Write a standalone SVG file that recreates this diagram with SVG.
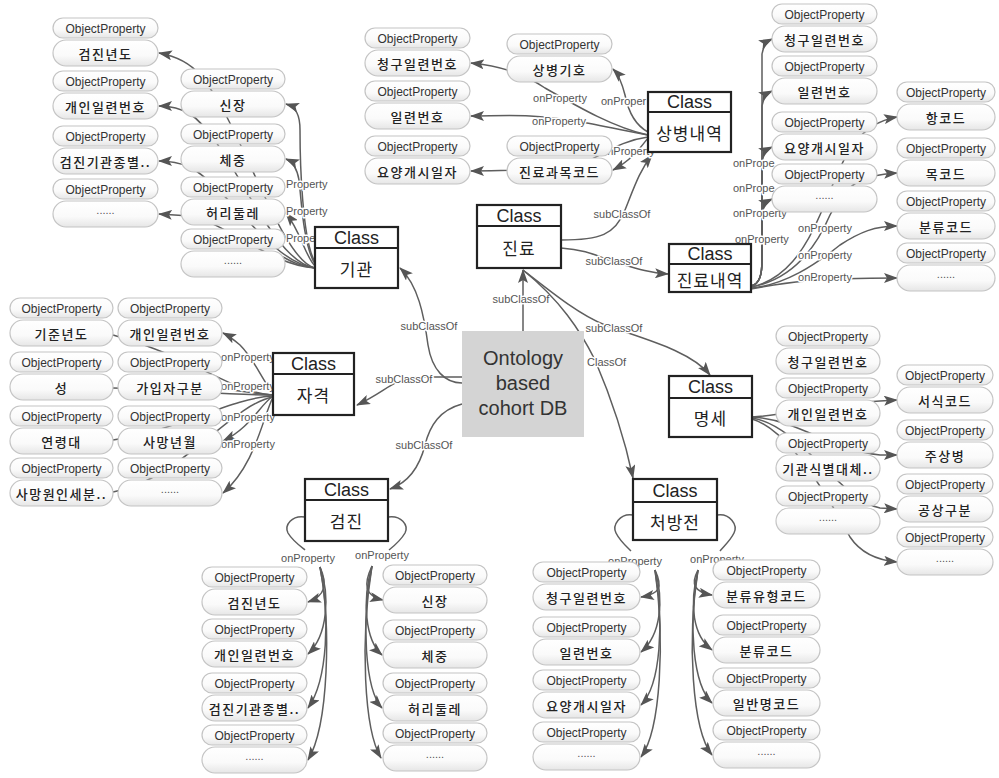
<svg xmlns="http://www.w3.org/2000/svg" width="999" height="778" viewBox="0 0 999 778">
<defs>
<linearGradient id="pg" x1="0" y1="0" x2="0" y2="1">
<stop offset="0" stop-color="#ffffff"/><stop offset="0.6" stop-color="#fafafa"/><stop offset="1" stop-color="#e6e6e6"/>
</linearGradient>
<marker id="ah" viewBox="0 0 14 10" refX="13" refY="5" markerWidth="14" markerHeight="10" markerUnits="userSpaceOnUse" orient="auto">
<path d="M0,0 L14,5 L0,10 L3,5 z" fill="#555"/>
</marker>
<style>
.c{fill:none;stroke:#5e5e5e;stroke-width:1.5}
.a{marker-end:url(#ah)}
.lb{font-family:"Liberation Sans",Arial,sans-serif;font-size:11px;fill:#555;dominant-baseline:central;paint-order:stroke;stroke:#fff;stroke-width:3px;stroke-linejoin:round}
.m{text-anchor:middle}
.pill{fill:url(#pg);stroke:#c4c4c4;stroke-width:1.2}
.opt{font-family:"Liberation Sans",Arial,sans-serif;font-size:12px;fill:#333;text-anchor:middle;dominant-baseline:central}
.vt{font-family:"Noto Sans CJK KR","Noto Sans",sans-serif;font-size:13px;font-weight:500;fill:#222;text-anchor:middle;dominant-baseline:central;letter-spacing:1.5px}
.dt{font-family:"Liberation Sans",Arial,sans-serif;font-size:11px;fill:#555;text-anchor:middle;dominant-baseline:central}
.cb{fill:#fff;stroke:#222;stroke-width:2.2}
.ct{font-family:"Liberation Sans",Arial,sans-serif;font-size:18px;fill:#222;text-anchor:middle;dominant-baseline:central}
.kt{font-family:"Noto Sans CJK KR","Noto Sans",sans-serif;font-size:17px;fill:#222;text-anchor:middle;dominant-baseline:central;letter-spacing:1px}
.ot{font-family:"Liberation Sans",Arial,sans-serif;font-size:20px;fill:#333;text-anchor:middle;dominant-baseline:central}
</style>
</defs>
<rect width="999" height="778" fill="#fff"/>

<g id="connectors">
<!-- subClassOf -->
<path class="c a" d="M523,331 L523,270"/>
<text class="lb m" x="521" y="299">subClassOf</text>
<path class="c a" d="M462,383 C445,383 432,370 428,345 C424,315 418,285 400,268"/>
<text class="lb m" x="429" y="326">subClassOf</text>
<path class="c a" d="M462,377 L415,377 C395,378 385,392 357,405"/>
<text class="lb m" x="404" y="379">subClassOf</text>
<path class="c a" d="M462,404 C440,410 430,425 425,445 C420,465 410,482 390,489"/>
<text class="lb m" x="424" y="445">subClassOf</text>
<path class="c a" d="M561,240 C600,240 615,235 625,210 C635,185 640,170 652,155"/>
<text class="lb m" x="622" y="214">subClassOf</text>
<path class="c a" d="M561,248 C590,250 600,258 615,262 C635,268 650,273 668,274"/>
<text class="lb m" x="614" y="261">subClassOf</text>
<path class="c a" d="M523,270 C555,295 580,315 605,325 C640,338 690,350 710,375"/>
<text class="lb m" x="614" y="328">subClassOf</text>
<path class="c a" d="M523,270 C560,300 580,330 595,360 C610,395 625,440 633,478"/>
<text class="lb" x="587" y="362">ClassOf</text>

<!-- 기관 -->
<path class="c a" d="M315,262 C302,240 300,160 300,130 C300,115 296,107 286,104"/>
<path class="c a" d="M315,264 C303,245 301,195 299,180 C297,168 293,162 286,159"/>
<path class="c a" d="M315,266 C305,256 301,232 286,213"/>
<path class="c" d="M315,268 C300,266 292,262 283,257"/>
<path class="c a" d="M315,268 C280,260 240,120 200,75 C190,63 175,56 159,53"/>
<path class="c a" d="M315,268 C270,262 230,140 190,114 C180,108 170,106 159,106"/>
<path class="c a" d="M315,268 C270,262 230,190 190,167 C180,163 170,161 159,161"/>
<path class="c a" d="M315,268 C270,265 230,225 190,216 L159,214"/>
<text class="lb" x="286" y="184">Property</text>
<text class="lb" x="286" y="211">Property</text>
<text class="lb" x="286" y="238">Prope</text>

<!-- 자격 -->
<path class="c a" d="M273,393 C262,380 255,360 240,345 C233,339 229,336 223,333"/>
<path class="c a" d="M273,396 C260,405 250,428 223,441"/>
<path class="c a" d="M273,397 C262,420 255,465 223,493"/>
<path class="c" d="M273,395 C250,393 235,390 222,389"/>
<path class="c" d="M273,395 C230,392 200,360 113,335"/>
<path class="c" d="M273,395 C230,395 180,390 113,388"/>
<path class="c" d="M273,396 C230,398 180,430 113,440"/>
<path class="c" d="M273,397 C230,405 180,480 113,492"/>
<text class="lb m" x="248" y="357">onProperty</text>
<text class="lb m" x="248" y="386">onProperty</text>
<text class="lb m" x="248" y="417">onProperty</text>
<text class="lb m" x="248" y="444">onProperty</text>

<!-- 상병내역 -->
<path class="c a" d="M648,132 C635,125 628,110 625,95 C622,83 619,75 613,69"/>
<path class="c a" d="M648,135 C615,128 580,108 545,88 C530,78 510,67 471,63"/>
<path class="c a" d="M648,135 C610,128 570,118 530,116 C510,115 490,116 471,116"/>
<path class="c a" d="M648,137 C625,140 610,150 590,160 C560,168 520,171 471,171"/>
<path class="c a" d="M648,138 C640,148 632,160 613,170"/>
<text class="lb m" x="560" y="98">onProperty</text>
<text class="lb m" x="559" y="121">onProperty</text>
<text class="lb" x="601" y="101">onProper</text>
<text class="lb m" x="628" y="151">onProperty</text>

<!-- 진료내역 -->
<path class="c a" d="M751,286 C760,284 762,274 762,260 L762,54 C763,47 766,42 772,39"/>
<path class="c a" d="M751,286 C760,284 762,274 762,260 L762,106 C763,99 766,94 772,91"/>
<path class="c a" d="M751,286 C760,284 762,274 762,260 L762,162 C763,155 766,150 772,147"/>
<path class="c a" d="M751,286 C760,284 762,274 762,260 L762,214 C763,207 766,202 772,199"/>
<path class="c a" d="M751,287 C785,280 805,250 820,215 C840,170 850,125 897,117"/>
<path class="c a" d="M751,287 C790,280 815,250 830,215 C845,185 860,175 897,173"/>
<path class="c a" d="M751,288 C785,285 815,265 840,245 C860,232 875,226 897,226"/>
<path class="c a" d="M751,289 C780,284 800,278 897,278"/>
<text class="lb" x="733" y="163">onPrope</text>
<text class="lb" x="733" y="188">onPrope</text>
<text class="lb" x="733" y="213">onProperty</text>
<text class="lb" x="735" y="239">onProperty</text>
<text class="lb m" x="825" y="228">onProperty</text>
<text class="lb m" x="825" y="255">onProperty</text>
<text class="lb m" x="825" y="277">onProperty</text>

<!-- 명세 -->
<path class="c a" d="M752,417 C790,415 820,404 880,401 L897,400"/>
<path class="c a" d="M752,417 C800,420 830,450 880,455 L897,455"/>
<path class="c a" d="M752,418 C800,425 840,500 880,508 L897,509"/>
<path class="c a" d="M752,419 C790,430 830,500 850,537 C860,552 875,560 897,562"/>

<!-- 검진 -->
<path class="c" d="M305,517 C292,515 284,525 288,533 C292,540 300,546 305,550"/>
<path class="c" d="M388,517 C401,515 409,525 405,533 C401,540 394,546 389,550"/>
<text class="lb m" x="308" y="558">onProperty</text>
<text class="lb m" x="382" y="555">onProperty</text>
<path class="c a" d="M320,567 C328,585 325,596 308,602"/>
<path class="c a" d="M320,567 C330,595 328,635 308,654"/>
<path class="c a" d="M320,567 C330,615 328,680 308,708"/>
<path class="c a" d="M320,567 C331,625 329,725 308,760"/>
<path class="c a" d="M372,566 C363,585 365,596 383,600"/>
<path class="c a" d="M372,566 C362,600 365,640 382,655"/>
<path class="c a" d="M372,566 C361,620 365,690 382,708"/>
<path class="c a" d="M372,566 C360,640 364,730 381,758"/>

<!-- 처방전 -->
<path class="c" d="M633,515 C620,513 612,525 616,533 C620,541 626,546 631,551"/>
<path class="c" d="M717,515 C730,513 738,525 734,533 C730,541 724,546 720,551"/>
<text class="lb m" x="635" y="561">onProperty</text>
<text class="lb m" x="717" y="559">onProperty</text>
<path class="c a" d="M655,570 C663,587 660,594 641,597"/>
<path class="c a" d="M655,570 C664,600 661,635 641,652"/>
<path class="c a" d="M655,570 C664,622 661,685 641,705"/>
<path class="c a" d="M655,570 C665,640 661,730 641,757"/>
<path class="c a" d="M698,570 C690,585 695,592 712,595"/>
<path class="c a" d="M698,570 C689,605 693,636 712,650"/>
<path class="c a" d="M698,570 C688,625 693,685 712,703"/>
<path class="c a" d="M698,570 C687,640 692,730 712,755"/>
</g>

<!-- Central node -->
<g id="ontology">
<rect x="462" y="331" width="122" height="106" fill="#d4d4d4"/>
<text class="ot" x="523" y="358">Ontology</text>
<text class="ot" x="523" y="383">based</text>
<text class="ot" x="523" y="408">cohort DB</text>
</g>

<!-- Class nodes -->
<g id="class-jinryo"><rect class="cb" x="477" y="205" width="84" height="63"/><line x1="477" y1="226" x2="561" y2="226" stroke="#222" stroke-width="2.2"/><text class="ct" x="519" y="216">Class</text><text class="kt" x="519" y="247">진료</text></g>
<g id="class-gigwan"><rect class="cb" x="315" y="227" width="83" height="61"/><line x1="315" y1="248" x2="398" y2="248" stroke="#222" stroke-width="2.2"/><text class="ct" x="356.5" y="238">Class</text><text class="kt" x="356.5" y="268">기관</text></g>
<g id="class-jagyeok"><rect class="cb" x="273" y="353" width="81" height="62"/><line x1="273" y1="374" x2="354" y2="374" stroke="#222" stroke-width="2.2"/><text class="ct" x="313.5" y="364">Class</text><text class="kt" x="313.5" y="394">자격</text></g>
<g id="class-geomjin"><rect class="cb" x="305" y="479" width="83" height="62"/><line x1="305" y1="500" x2="388" y2="500" stroke="#222" stroke-width="2.2"/><text class="ct" x="346.5" y="490">Class</text><text class="kt" x="346.5" y="520">검진</text></g>
<g id="class-cheobang"><rect class="cb" x="633" y="479" width="84" height="61"/><line x1="633" y1="502" x2="717" y2="502" stroke="#222" stroke-width="2.2"/><text class="ct" x="675" y="491">Class</text><text class="kt" x="675" y="521">처방전</text></g>
<g id="class-myeongse"><rect class="cb" x="669" y="376" width="83" height="61"/><line x1="669" y1="398" x2="752" y2="398" stroke="#222" stroke-width="2.2"/><text class="ct" x="710.5" y="387">Class</text><text class="kt" x="710.5" y="417">명세</text></g>
<g id="class-sangbyeong"><rect class="cb" x="648" y="92" width="83" height="60"/><line x1="648" y1="112" x2="731" y2="112" stroke="#222" stroke-width="2.2"/><text class="ct" x="689.5" y="102">Class</text><text class="kt" x="689.5" y="132">상병내역</text></g>
<g id="class-jinryonaeyeok"><rect class="cb" x="669" y="244" width="82" height="48"/><line x1="669" y1="264" x2="751" y2="264" stroke="#222" stroke-width="2.2"/><text class="ct" x="710" y="254">Class</text><text class="kt" x="710" y="279">진료내역</text></g>

<!-- Property nodes: column A (기관 outer) -->
<g id="pA1"><rect class="pill" x="53" y="18" width="105" height="20" rx="10"/><text class="opt" x="105.5" y="28.5">ObjectProperty</text><rect class="pill" x="53" y="40" width="105" height="26" rx="13"/><text class="vt" x="105.5" y="53">검진년도</text></g>
<g id="pA2"><rect class="pill" x="53" y="71" width="105" height="20" rx="10"/><text class="opt" x="105.5" y="81.5">ObjectProperty</text><rect class="pill" x="53" y="93" width="105" height="26" rx="13"/><text class="vt" x="105.5" y="106">개인일련번호</text></g>
<g id="pA3"><rect class="pill" x="53" y="126" width="105" height="20" rx="10"/><text class="opt" x="105.5" y="136.5">ObjectProperty</text><rect class="pill" x="53" y="148" width="105" height="26" rx="13"/><text class="vt" x="105.5" y="161">검진기관종별..</text></g>
<g id="pA4"><rect class="pill" x="53" y="179" width="105" height="20" rx="10"/><text class="opt" x="105.5" y="189.5">ObjectProperty</text><rect class="pill" x="53" y="201" width="105" height="26" rx="13"/><text class="dt" x="105.5" y="210">......</text></g>

<!-- column B (기관 inner) -->
<g id="pB1"><rect class="pill" x="181" y="69" width="104" height="20" rx="10"/><text class="opt" x="233" y="79.5">ObjectProperty</text><rect class="pill" x="181" y="91" width="104" height="26" rx="13"/><text class="vt" x="233" y="104">신장</text></g>
<g id="pB2"><rect class="pill" x="181" y="124" width="104" height="20" rx="10"/><text class="opt" x="233" y="134.5">ObjectProperty</text><rect class="pill" x="181" y="146" width="104" height="26" rx="13"/><text class="vt" x="233" y="159">체중</text></g>
<g id="pB3"><rect class="pill" x="181" y="177" width="104" height="20" rx="10"/><text class="opt" x="233" y="187.5">ObjectProperty</text><rect class="pill" x="181" y="199" width="104" height="26" rx="13"/><text class="vt" x="233" y="212">허리둘레</text></g>
<g id="pB4"><rect class="pill" x="181" y="229" width="104" height="20" rx="10"/><text class="opt" x="233" y="239.5">ObjectProperty</text><rect class="pill" x="181" y="251" width="104" height="26" rx="13"/><text class="dt" x="233" y="260">......</text></g>

<!-- column C (상병내역 outer) -->
<g id="pC1"><rect class="pill" x="365" y="28" width="105" height="20" rx="10"/><text class="opt" x="417.5" y="38.5">ObjectProperty</text><rect class="pill" x="365" y="50" width="105" height="26" rx="13"/><text class="vt" x="417.5" y="63">청구일련번호</text></g>
<g id="pC2"><rect class="pill" x="365" y="81" width="105" height="20" rx="10"/><text class="opt" x="417.5" y="91.5">ObjectProperty</text><rect class="pill" x="365" y="103" width="105" height="26" rx="13"/><text class="vt" x="417.5" y="116">일련번호</text></g>
<g id="pC3"><rect class="pill" x="365" y="136" width="105" height="20" rx="10"/><text class="opt" x="417.5" y="146.5">ObjectProperty</text><rect class="pill" x="365" y="158" width="105" height="26" rx="13"/><text class="vt" x="417.5" y="171">요양개시일자</text></g>

<!-- column D (상병내역 inner) -->
<g id="pD1"><rect class="pill" x="507" y="34" width="105" height="20" rx="10"/><text class="opt" x="559.5" y="44.5">ObjectProperty</text><rect class="pill" x="507" y="56" width="105" height="26" rx="13"/><text class="vt" x="559.5" y="69">상병기호</text></g>
<g id="pD2"><rect class="pill" x="507" y="136" width="105" height="20" rx="10"/><text class="opt" x="559.5" y="146.5">ObjectProperty</text><rect class="pill" x="507" y="158" width="105" height="26" rx="13"/><text class="vt" x="559.5" y="171">진료과목코드</text></g>

<!-- column E (진료내역 inner) -->
<g id="pE1"><rect class="pill" x="772" y="4" width="105" height="20" rx="10"/><text class="opt" x="824.5" y="14.5">ObjectProperty</text><rect class="pill" x="772" y="26" width="105" height="26" rx="13"/><text class="vt" x="824.5" y="39">청구일련번호</text></g>
<g id="pE2"><rect class="pill" x="772" y="56" width="105" height="20" rx="10"/><text class="opt" x="824.5" y="66.5">ObjectProperty</text><rect class="pill" x="772" y="78" width="105" height="26" rx="13"/><text class="vt" x="824.5" y="91">일련번호</text></g>
<g id="pE3"><rect class="pill" x="772" y="112" width="105" height="20" rx="10"/><text class="opt" x="824.5" y="122.5">ObjectProperty</text><rect class="pill" x="772" y="134" width="105" height="26" rx="13"/><text class="vt" x="824.5" y="147">요양개시일자</text></g>
<g id="pE4"><rect class="pill" x="772" y="164" width="105" height="20" rx="10"/><text class="opt" x="824.5" y="174.5">ObjectProperty</text><rect class="pill" x="772" y="186" width="105" height="26" rx="13"/><text class="dt" x="824.5" y="195">......</text></g>

<!-- column F (진료내역 outer) -->
<g id="pF1"><rect class="pill" x="897" y="82" width="98" height="20" rx="10"/><text class="opt" x="946" y="92.5">ObjectProperty</text><rect class="pill" x="897" y="104" width="98" height="26" rx="13"/><text class="vt" x="946" y="117">항코드</text></g>
<g id="pF2"><rect class="pill" x="897" y="138" width="98" height="20" rx="10"/><text class="opt" x="946" y="148.5">ObjectProperty</text><rect class="pill" x="897" y="160" width="98" height="26" rx="13"/><text class="vt" x="946" y="173">목코드</text></g>
<g id="pF3"><rect class="pill" x="897" y="191" width="98" height="20" rx="10"/><text class="opt" x="946" y="201.5">ObjectProperty</text><rect class="pill" x="897" y="213" width="98" height="26" rx="13"/><text class="vt" x="946" y="226">분류코드</text></g>
<g id="pF4"><rect class="pill" x="897" y="243" width="98" height="20" rx="10"/><text class="opt" x="946" y="253.5">ObjectProperty</text><rect class="pill" x="897" y="265" width="98" height="26" rx="13"/><text class="dt" x="946" y="274">......</text></g>

<!-- column G (명세 inner) -->
<g id="pG1"><rect class="pill" x="776" y="326" width="104" height="20" rx="10"/><text class="opt" x="828" y="336.5">ObjectProperty</text><rect class="pill" x="776" y="348" width="104" height="26" rx="13"/><text class="vt" x="828" y="361">청구일련번호</text></g>
<g id="pG2"><rect class="pill" x="776" y="378" width="104" height="20" rx="10"/><text class="opt" x="828" y="388.5">ObjectProperty</text><rect class="pill" x="776" y="400" width="104" height="26" rx="13"/><text class="vt" x="828" y="413">개인일련번호</text></g>
<g id="pG3"><rect class="pill" x="776" y="433" width="104" height="20" rx="10"/><text class="opt" x="828" y="443.5">ObjectProperty</text><rect class="pill" x="776" y="455" width="104" height="26" rx="13"/><text class="vt" x="828" y="468">기관식별대체..</text></g>
<g id="pG4"><rect class="pill" x="776" y="486" width="104" height="20" rx="10"/><text class="opt" x="828" y="496.5">ObjectProperty</text><rect class="pill" x="776" y="508" width="104" height="26" rx="13"/><text class="dt" x="828" y="517">......</text></g>

<!-- column H (명세 outer) -->
<g id="pH1"><rect class="pill" x="897" y="365" width="96" height="20" rx="10"/><text class="opt" x="945" y="375.5">ObjectProperty</text><rect class="pill" x="897" y="387" width="96" height="26" rx="13"/><text class="vt" x="945" y="400">서식코드</text></g>
<g id="pH2"><rect class="pill" x="897" y="420" width="96" height="20" rx="10"/><text class="opt" x="945" y="430.5">ObjectProperty</text><rect class="pill" x="897" y="442" width="96" height="26" rx="13"/><text class="vt" x="945" y="455">주상병</text></g>
<g id="pH3"><rect class="pill" x="897" y="474" width="96" height="20" rx="10"/><text class="opt" x="945" y="484.5">ObjectProperty</text><rect class="pill" x="897" y="496" width="96" height="26" rx="13"/><text class="vt" x="945" y="509">공상구분</text></g>
<g id="pH4"><rect class="pill" x="897" y="527" width="96" height="20" rx="10"/><text class="opt" x="945" y="537.5">ObjectProperty</text><rect class="pill" x="897" y="549" width="96" height="26" rx="13"/><text class="dt" x="945" y="558">......</text></g>

<!-- column I (검진 left) -->
<g id="pI1"><rect class="pill" x="202" y="567" width="105" height="20" rx="10"/><text class="opt" x="254.5" y="577.5">ObjectProperty</text><rect class="pill" x="202" y="589" width="105" height="26" rx="13"/><text class="vt" x="254.5" y="602">검진년도</text></g>
<g id="pI2"><rect class="pill" x="202" y="619" width="105" height="20" rx="10"/><text class="opt" x="254.5" y="629.5">ObjectProperty</text><rect class="pill" x="202" y="641" width="105" height="26" rx="13"/><text class="vt" x="254.5" y="654">개인일련번호</text></g>
<g id="pI3"><rect class="pill" x="202" y="673" width="105" height="20" rx="10"/><text class="opt" x="254.5" y="683.5">ObjectProperty</text><rect class="pill" x="202" y="695" width="105" height="26" rx="13"/><text class="vt" x="254.5" y="708">검진기관종별..</text></g>
<g id="pI4"><rect class="pill" x="202" y="725" width="105" height="20" rx="10"/><text class="opt" x="254.5" y="735.5">ObjectProperty</text><rect class="pill" x="202" y="747" width="105" height="26" rx="13"/><text class="dt" x="254.5" y="756">......</text></g>

<!-- column J (검진 right) -->
<g id="pJ1"><rect class="pill" x="383" y="565" width="104" height="20" rx="10"/><text class="opt" x="435" y="575.5">ObjectProperty</text><rect class="pill" x="383" y="587" width="104" height="26" rx="13"/><text class="vt" x="435" y="600">신장</text></g>
<g id="pJ2"><rect class="pill" x="383" y="620" width="104" height="20" rx="10"/><text class="opt" x="435" y="630.5">ObjectProperty</text><rect class="pill" x="383" y="642" width="104" height="26" rx="13"/><text class="vt" x="435" y="655">체중</text></g>
<g id="pJ3"><rect class="pill" x="383" y="673" width="104" height="20" rx="10"/><text class="opt" x="435" y="683.5">ObjectProperty</text><rect class="pill" x="383" y="695" width="104" height="26" rx="13"/><text class="vt" x="435" y="708">허리둘레</text></g>
<g id="pJ4"><rect class="pill" x="383" y="723" width="104" height="20" rx="10"/><text class="opt" x="435" y="733.5">ObjectProperty</text><rect class="pill" x="383" y="745" width="104" height="26" rx="13"/><text class="dt" x="435" y="754">......</text></g>

<!-- column K (처방전 left) -->
<g id="pK1"><rect class="pill" x="533" y="562" width="107" height="20" rx="10"/><text class="opt" x="586.5" y="572.5">ObjectProperty</text><rect class="pill" x="533" y="584" width="107" height="26" rx="13"/><text class="vt" x="586.5" y="597">청구일련번호</text></g>
<g id="pK2"><rect class="pill" x="533" y="617" width="107" height="20" rx="10"/><text class="opt" x="586.5" y="627.5">ObjectProperty</text><rect class="pill" x="533" y="639" width="107" height="26" rx="13"/><text class="vt" x="586.5" y="652">일련번호</text></g>
<g id="pK3"><rect class="pill" x="533" y="670" width="107" height="20" rx="10"/><text class="opt" x="586.5" y="680.5">ObjectProperty</text><rect class="pill" x="533" y="692" width="107" height="26" rx="13"/><text class="vt" x="586.5" y="705">요양개시일자</text></g>
<g id="pK4"><rect class="pill" x="533" y="722" width="107" height="20" rx="10"/><text class="opt" x="586.5" y="732.5">ObjectProperty</text><rect class="pill" x="533" y="744" width="107" height="26" rx="13"/><text class="dt" x="586.5" y="753">......</text></g>

<!-- column L (처방전 right) -->
<g id="pL1"><rect class="pill" x="713" y="560" width="107" height="20" rx="10"/><text class="opt" x="766.5" y="570.5">ObjectProperty</text><rect class="pill" x="713" y="582" width="107" height="26" rx="13"/><text class="vt" x="766.5" y="595">분류유형코드</text></g>
<g id="pL2"><rect class="pill" x="713" y="615" width="107" height="20" rx="10"/><text class="opt" x="766.5" y="625.5">ObjectProperty</text><rect class="pill" x="713" y="637" width="107" height="26" rx="13"/><text class="vt" x="766.5" y="650">분류코드</text></g>
<g id="pL3"><rect class="pill" x="713" y="668" width="107" height="20" rx="10"/><text class="opt" x="766.5" y="678.5">ObjectProperty</text><rect class="pill" x="713" y="690" width="107" height="26" rx="13"/><text class="vt" x="766.5" y="703">일반명코드</text></g>
<g id="pL4"><rect class="pill" x="713" y="720" width="107" height="20" rx="10"/><text class="opt" x="766.5" y="730.5">ObjectProperty</text><rect class="pill" x="713" y="742" width="107" height="26" rx="13"/><text class="dt" x="766.5" y="751">......</text></g>

<!-- column M (자격 outer) -->
<g id="pM1"><rect class="pill" x="10" y="298" width="103" height="20" rx="10"/><text class="opt" x="61.5" y="308.5">ObjectProperty</text><rect class="pill" x="10" y="320" width="103" height="26" rx="13"/><text class="vt" x="61.5" y="333">기준년도</text></g>
<g id="pM2"><rect class="pill" x="10" y="352" width="103" height="20" rx="10"/><text class="opt" x="61.5" y="362.5">ObjectProperty</text><rect class="pill" x="10" y="374" width="103" height="26" rx="13"/><text class="vt" x="61.5" y="387">성</text></g>
<g id="pM3"><rect class="pill" x="10" y="406" width="103" height="20" rx="10"/><text class="opt" x="61.5" y="416.5">ObjectProperty</text><rect class="pill" x="10" y="428" width="103" height="26" rx="13"/><text class="vt" x="61.5" y="441">연령대</text></g>
<g id="pM4"><rect class="pill" x="10" y="458" width="103" height="20" rx="10"/><text class="opt" x="61.5" y="468.5">ObjectProperty</text><rect class="pill" x="10" y="480" width="103" height="26" rx="13"/><text class="vt" x="61.5" y="493">사망원인세분..</text></g>

<!-- column N (자격 inner) -->
<g id="pN1"><rect class="pill" x="118" y="298" width="104" height="20" rx="10"/><text class="opt" x="170" y="308.5">ObjectProperty</text><rect class="pill" x="118" y="320" width="104" height="26" rx="13"/><text class="vt" x="170" y="333">개인일련번호</text></g>
<g id="pN2"><rect class="pill" x="118" y="352" width="104" height="20" rx="10"/><text class="opt" x="170" y="362.5">ObjectProperty</text><rect class="pill" x="118" y="374" width="104" height="26" rx="13"/><text class="vt" x="170" y="387">가입자구분</text></g>
<g id="pN3"><rect class="pill" x="118" y="406" width="104" height="20" rx="10"/><text class="opt" x="170" y="416.5">ObjectProperty</text><rect class="pill" x="118" y="428" width="104" height="26" rx="13"/><text class="vt" x="170" y="441">사망년월</text></g>
<g id="pN4"><rect class="pill" x="118" y="458" width="104" height="20" rx="10"/><text class="opt" x="170" y="468.5">ObjectProperty</text><rect class="pill" x="118" y="480" width="104" height="26" rx="13"/><text class="dt" x="170" y="489">......</text></g>
</svg>
